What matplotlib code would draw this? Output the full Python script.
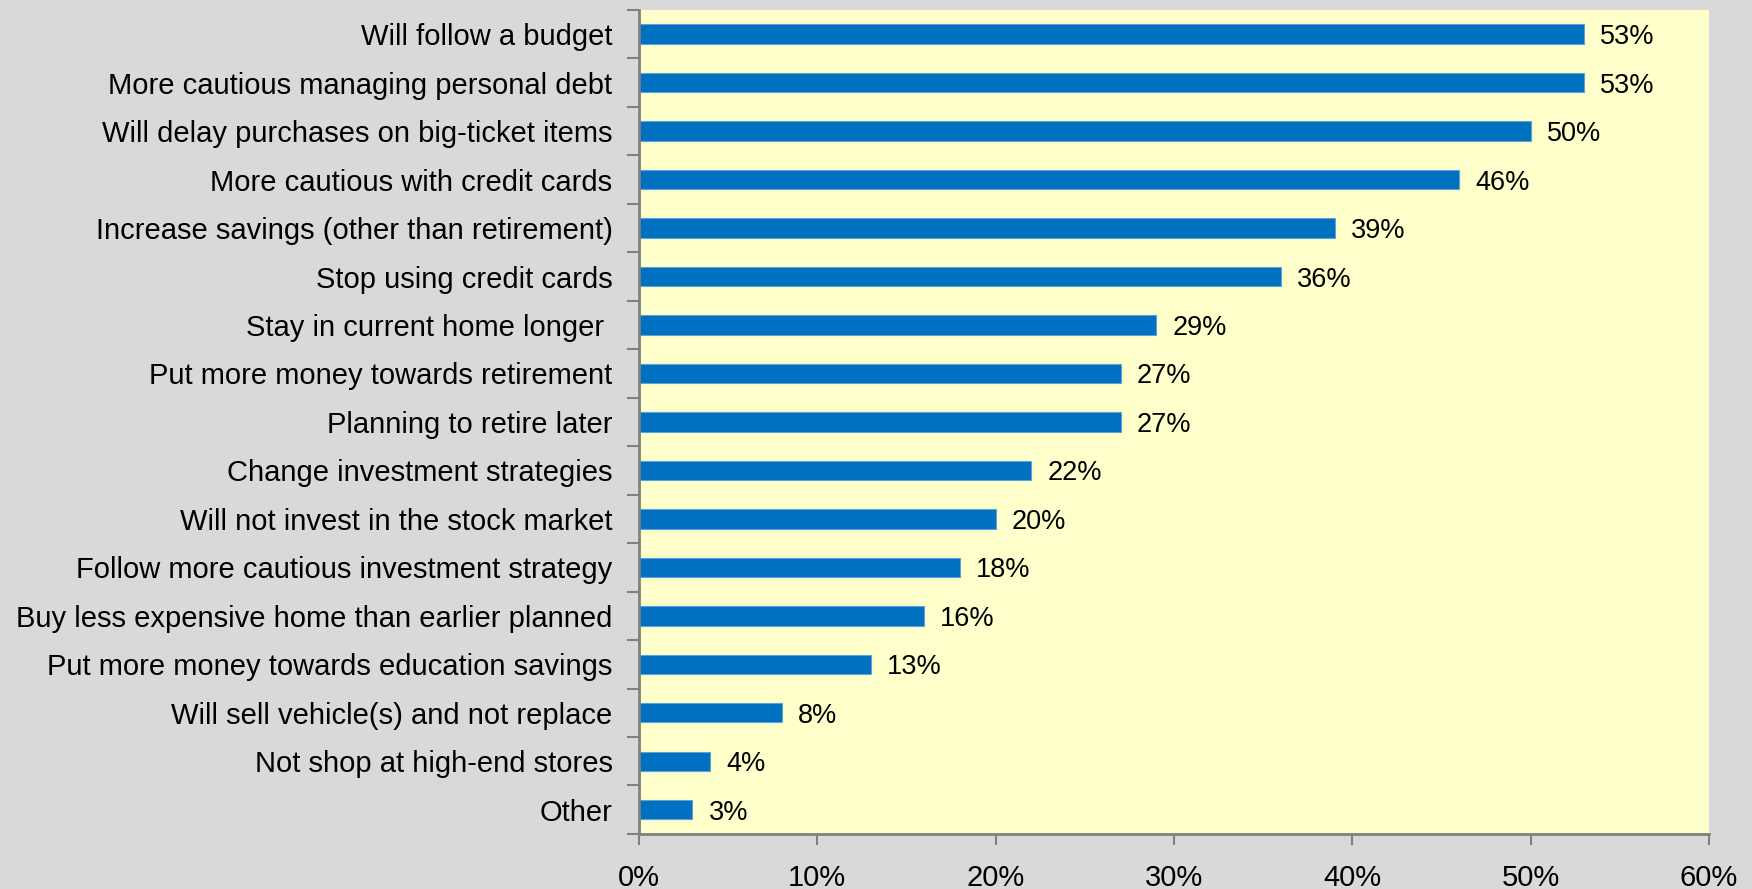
import numpy as np
import matplotlib.pyplot as plt
from matplotlib.ticker import FixedLocator

plt.rcParams['font.family'] = ['Liberation Sans', 'DejaVu Sans']

categories = [
    "Will follow a budget",
    "More cautious managing personal debt",
    "Will delay purchases on big-ticket items",
    "More cautious with credit cards",
    "Increase savings (other than retirement)",
    "Stop using credit cards",
    "Stay in current home longer ",
    "Put more money towards retirement",
    "Planning to retire later",
    "Change investment strategies",
    "Will not invest in the stock market",
    "Follow more cautious investment strategy",
    "Buy less expensive home than earlier planned",
    "Put more money towards education savings",
    "Will sell vehicle(s) and not replace",
    "Not shop at high-end stores",
    "Other",
]
values = [53, 53, 50, 46, 39, 36, 29, 27, 27, 22, 20, 18, 16, 13, 8, 4, 3]
x_ticks = [0, 10, 20, 30, 40, 50, 60]

fig = plt.figure(figsize=(17.52, 8.89), dpi=100, facecolor='#D9D9D9')
ax = fig.add_axes([0.3647, 0.0619, 0.6108, 0.9269])
ax.set_facecolor('#FFFFCC')

y = np.arange(len(categories))
ax.barh(y, values, height=0.4, color='#0070C0', edgecolor='#5BA3D6', linewidth=0.8)

for yi, v in zip(y, values):
    ax.text(v + 0.9, yi, f"{v}%", va='center_baseline', ha='left', fontsize=19.5, color='black')

ax.set_xlim(0, 60)
ax.set_ylim(len(categories) - 0.5, -0.5)

# ticks on category boundaries, labels at the centres
ax.yaxis.set_major_locator(FixedLocator(np.arange(-0.5, len(categories), 1.0)))
ax.yaxis.set_major_formatter(plt.NullFormatter())
ax.yaxis.set_minor_locator(FixedLocator(y))
ax.set_yticklabels(categories, minor=True, fontsize=21, va='center_baseline')
ax.tick_params(axis='y', which='major', direction='out', length=9, width=1.5, color='#808080')
ax.tick_params(axis='y', which='minor', length=0, pad=19)

ax.set_xticks(x_ticks)
ax.set_xticklabels([f"{t}%" for t in x_ticks], fontsize=21)
ax.tick_params(axis='x', direction='out', length=8, width=1.5, color='#808080', pad=13.5)

for side in ['top', 'right']:
    ax.spines[side].set_visible(False)
for side in ['left', 'bottom']:
    ax.spines[side].set_color('#808080')
    ax.spines[side].set_linewidth(2)

fig.savefig('out.png', dpi=100, facecolor=fig.get_facecolor())
